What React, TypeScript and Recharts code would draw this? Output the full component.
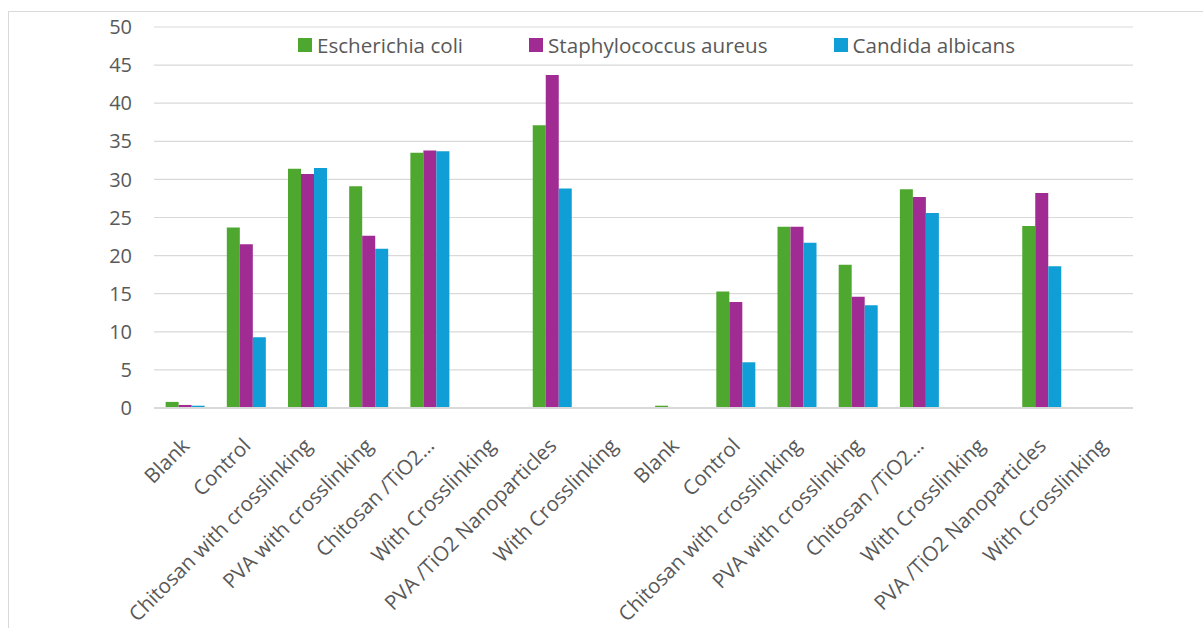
import { BarChart, Bar, XAxis, YAxis, CartesianGrid, Legend } from 'recharts';

const categories = [
  'Blank',
  'Control',
  'Chitosan with crosslinking',
  'PVA with crosslinking',
  'Chitosan /TiO2…',
  'With Crosslinking',
  'PVA /TiO2 Nanoparticles',
  'With Crosslinking',
  'Blank',
  'Control',
  'Chitosan with crosslinking',
  'PVA with crosslinking',
  'Chitosan /TiO2…',
  'With Crosslinking',
  'PVA /TiO2 Nanoparticles',
  'With Crosslinking',
];

const eColi = [0.8, 23.7, 31.4, 29.1, 33.5, 0, 37.1, 0, 0.3, 15.3, 23.8, 18.8, 28.7, 0, 23.9, 0];
const sAureus = [0.4, 21.5, 30.7, 22.6, 33.8, 0, 43.7, 0, 0.1, 13.9, 23.8, 14.6, 27.7, 0, 28.2, 0];
const cAlbicans = [0.3, 9.3, 31.5, 20.9, 33.7, 0, 28.8, 0, 0, 6.0, 21.7, 13.5, 25.6, 0, 18.6, 0];

const yTicks = [0, 5, 10, 15, 20, 25, 30, 35, 40, 45, 50];

const series = [
  { key: 'ecoli', name: 'Escherichia coli', color: '#4EA72E' },
  { key: 'saureus', name: 'Staphylococcus aureus', color: '#A02B93' },
  { key: 'calbicans', name: 'Candida albicans', color: '#0F9ED5' },
];

const data = categories.map((name, i) => ({
  idx: i,
  name,
  ecoli: eColi[i],
  saureus: sAureus[i],
  calbicans: cAlbicans[i],
}));

const FONT = '"Open Sans", sans-serif';
const TEXT = '#595959';

function AngledTick({ x, y, payload }: any) {
  const label = categories[payload.value];
  return (
    <text
      transform={`translate(${x + 1},${y + 26}) rotate(-45)`}
      textAnchor="end"
      dy="0.35em"
      fill={TEXT}
      fontSize={20.5}
      fontFamily={FONT}
    >
      {label}
    </text>
  );
}

function LegendContent() {
  return (
    <div style={{ display: 'flex', gap: 66, alignItems: 'center', fontFamily: FONT, fontSize: 20.6, color: TEXT }}>
      {series.map((s) => (
        <div key={s.key} style={{ display: 'flex', alignItems: 'center', whiteSpace: 'nowrap' }}>
          <span style={{ width: 14, height: 14, background: s.color, display: 'inline-block', marginRight: 5 }} />
          <span>{s.name}</span>
        </div>
      ))}
    </div>
  );
}

export default function App() {
  return (
    <div style={{ position: 'fixed', left: 0, top: 0, width: 1203, height: 628, overflow: 'hidden', background: '#fff' }}>
      <div
        style={{
          position: 'absolute',
          left: 8,
          top: 11,
          width: 1220,
          height: 660,
          border: '1.5px solid #d9d9d9',
        }}
      />
      <div style={{ position: 'absolute', left: 0, top: 0 }}>
        <BarChart
          width={1203}
          height={628}
          data={data}
          margin={{ top: 27, right: 70, left: 0, bottom: 20 }}
          barGap={0}
          barCategoryGap="19%"
        >
          <CartesianGrid vertical={false} stroke="#d9d9d9" strokeWidth={1.2} />
          <XAxis
            dataKey="idx"
            type="category"
            interval={0}
            height={200}
            tick={<AngledTick />}
            tickLine={false}
            axisLine={{ stroke: '#d9d9d9', strokeWidth: 2 }}
          />
          <YAxis
            domain={[0, 50]}
            ticks={yTicks}
            width={154}
            tickSize={0}
            tickMargin={22}
            axisLine={false}
            tickLine={false}
            tick={{ fill: TEXT, fontSize: 20, fontFamily: FONT }}
          />
          <Legend
            layout="vertical"
            align="center"
            verticalAlign="middle"
            content={<LegendContent />}
            wrapperStyle={{ top: 31, left: 298, width: 820 }}
          />
          {series.map((s) => (
            <Bar key={s.key} dataKey={s.key} name={s.name} fill={s.color} isAnimationActive={false} />
          ))}
        </BarChart>
      </div>
    </div>
  );
}
